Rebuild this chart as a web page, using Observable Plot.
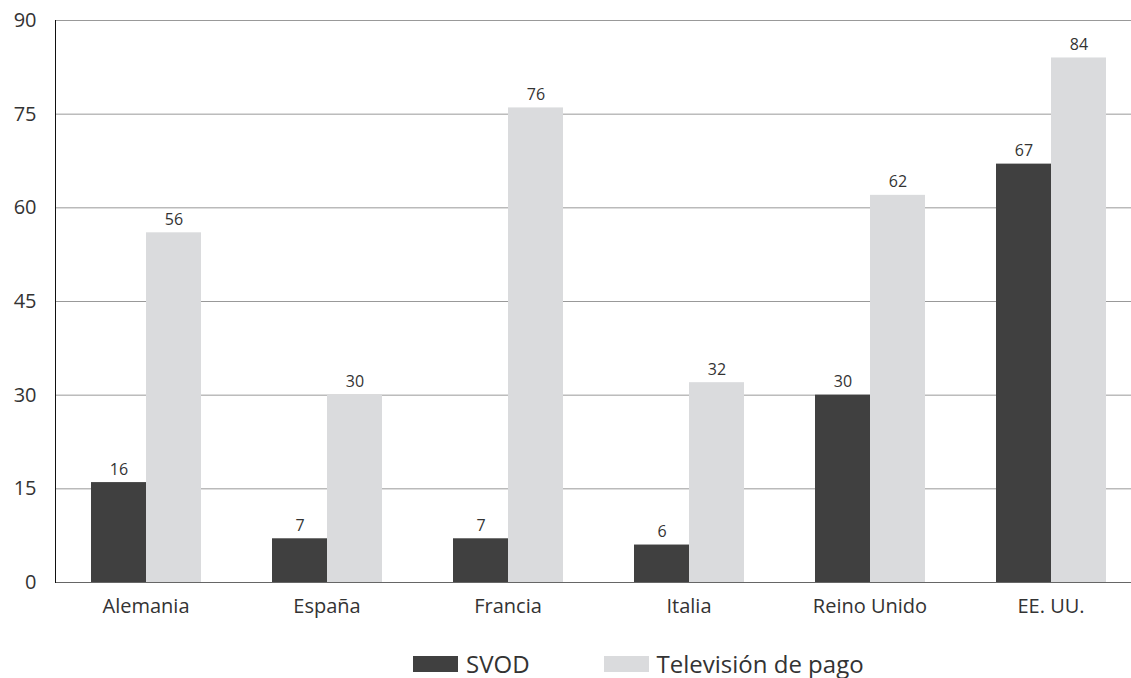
<!DOCTYPE html>
<html>
<head>
<meta charset="utf-8">
<script src="https://cdn.jsdelivr.net/npm/d3@7"></script>
<script src="https://cdn.jsdelivr.net/npm/@observablehq/plot@0.6"></script>
<style>
  body { margin: 0; background: #fff; font-family: "Open Sans", sans-serif; color: #333; }
  #legend { display: flex; align-items: center; height: 30px; margin-top: 9px; padding-left: 413px; font-size: 24px; color: #333; line-height: 30px; }
  .sw { display: inline-block; width: 45px; height: 16px; margin-right: 8px; }
  .item { display: flex; align-items: center; margin-right: 74px; }
</style>
</head>
<body>
<div id="chart"></div>
<div id="legend"></div>
<script>
const countries = ["Alemania", "España", "Francia", "Italia", "Reino Unido", "EE. UU."];
const series = ["SVOD", "Televisión de pago"];
const svod = [16, 7, 7, 6, 30, 67];
const payTv = [56, 30, 76, 32, 62, 84];
const yTicks = [0, 15, 30, 45, 60, 75, 90];
const colors = ["#404040", "#dadbdd"];

const data = countries.flatMap((c, i) => [
  {country: c, serie: series[0], value: svod[i]},
  {country: c, serie: series[1], value: payTv[i]}
]);

const chart = Plot.plot({
  width: 1131,
  height: 640,
  marginLeft: 55,
  marginRight: -10,
  marginTop: 20,
  marginBottom: 58,
  style: {fontFamily: "'Open Sans', sans-serif", color: "#333"},
  fx: {domain: countries, padding: 0, label: null},
  x: {domain: series, paddingInner: 0, paddingOuter: 0.645, axis: null},
  y: {domain: [0, 90], label: null},
  color: {domain: series, range: colors},
  marks: [
    Plot.ruleY(yTicks.slice(1), {stroke: "#999", strokeWidth: 1, strokeOpacity: 1}),
    Plot.barY(data, {fx: "country", x: "serie", y: "value", fill: "serie"}),
    Plot.text(data, {fx: "country", x: "serie", y: "value", text: d => String(d.value), dy: -13, fontSize: 16, fill: "#333"}),
    Plot.ruleY([0], {stroke: "#666"}),
    Plot.axisY({ticks: yTicks, tickSize: 0, tickPadding: 19, fontSize: 20, anchor: "left", label: null}),
    Plot.frame({anchor: "left", stroke: "#111", facetAnchor: "left"}),
    Plot.axisFx({anchor: "bottom", tickSize: 0, tickPadding: 16, fontSize: 20, label: null})
  ]
});
document.getElementById("chart").appendChild(chart);

const legend = document.getElementById("legend");
series.forEach((s, i) => {
  const item = document.createElement("div");
  item.className = "item";
  const sw = document.createElement("span");
  sw.className = "sw";
  sw.style.background = colors[i];
  const t = document.createElement("span");
  t.textContent = s;
  item.appendChild(sw);
  item.appendChild(t);
  legend.appendChild(item);
});
</script>
</body>
</html>
